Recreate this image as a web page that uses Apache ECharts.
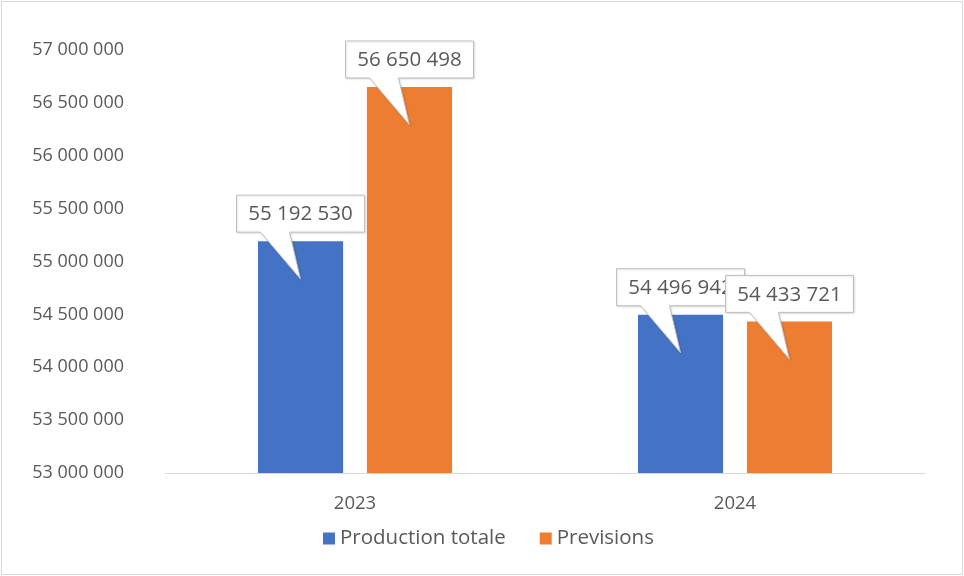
<!DOCTYPE html>
<html>
<head>
<meta charset="utf-8">
<script src="https://cdn.jsdelivr.net/npm/echarts@6/dist/echarts.min.js"></script>
<style>
html,body{margin:0;padding:0;background:#fff;}
#c{width:964px;height:576px;position:absolute;left:0;top:0;}
#frame{position:absolute;left:1px;top:1px;width:960px;height:572px;border:1px solid #d9d9d9;pointer-events:none;}
</style>
</head>
<body>
<div id="c"></div>
<div id="frame"></div>
<script>
var categories = ['2023', '2024'];
var seriesNames = ['Production totale', 'Previsions'];
var productionTotale = [55192530, 54496942];
var previsions = [56650498, 54433721];
var yMin = 53000000, yMax = 57000000, yStep = 500000;

var colors = ['#4472C4', '#ED7D31'];
var BAR_W = 0.224, BAR_GAP = 0.28;

function fmt(v) {
  return String(Math.round(v)).replace(/\B(?=(\d{3})+(?!\d))/g, ' ');
}

var calloutData = [];
[productionTotale, previsions].forEach(function (arr, s) {
  arr.forEach(function (v, i) { calloutData.push([i, v, s]); });
});

var chart = echarts.init(document.getElementById('c'), null, {renderer: 'canvas'});
var font = '20.5px "Open Sans", sans-serif';

chart.setOption({
  animation: false,
  textStyle: {fontFamily: '"Open Sans", sans-serif'},
  grid: {left: 165, right: 39, top: 50, bottom: 103, containLabel: false},
  legend: {
    data: seriesNames,
    bottom: 22,
    left: 318,
    itemWidth: 12, itemHeight: 12, itemGap: 34,
    icon: 'rect',
    textStyle: {color: '#595959', fontSize: 20.5, fontFamily: '"Open Sans", sans-serif'}
  },
  xAxis: {
    type: 'category',
    data: categories,
    axisLine: {lineStyle: {color: '#d9d9d9', width: 1}},
    axisTick: {show: false},
    axisLabel: {color: '#595959', fontSize: 18.5, margin: 21}
  },
  yAxis: {
    type: 'value',
    min: yMin, max: yMax, interval: yStep,
    splitLine: {show: false},
    axisLine: {show: false},
    axisTick: {show: false},
    axisLabel: {color: '#595959', fontSize: 18, margin: 41, formatter: fmt}
  },
  series: [
    {name: seriesNames[0], type: 'bar', data: productionTotale, barWidth: (BAR_W * 100) + '%', barGap: (BAR_GAP * 100) + '%', itemStyle: {color: colors[0]}},
    {name: seriesNames[1], type: 'bar', data: previsions, barWidth: (BAR_W * 100) + '%', barGap: (BAR_GAP * 100) + '%', itemStyle: {color: colors[1]}},
    {
      type: 'custom',
      z: 10,
      clip: false,
      silent: true,
      data: calloutData,
      encode: {x: 0, y: 1},
      renderItem: function (params, api) {
        var ci = api.value(0), v = api.value(1), s = api.value(2);
        var pt = api.coord([ci, v]);
        var band = api.size([1, 0])[0];
        var bw = band * BAR_W;
        var off = bw * (1 + BAR_GAP) / 2;
        var cx = pt[0] + (s === 0 ? -off : off);
        var top = pt[1];
        var w = 128, h = 37;
        var bottom = top - 9;
        var y0 = bottom - h;
        var x0 = cx - w / 2, x1 = cx + w / 2;
        var tipY = top + 38;
        var pts = [[x0, y0], [x1, y0], [x1, bottom], [cx - 11, bottom], [cx, tipY], [cx - 40, bottom], [x0, bottom]];
        return {
          type: 'group',
          z2: params.dataIndex * 2,
          children: [
            {type: 'polygon', z2: params.dataIndex * 2, shape: {points: pts},
             style: {fill: '#ffffff', stroke: '#bfbfbf', lineWidth: 1, shadowBlur: 2, shadowColor: 'rgba(0,0,0,0.12)', shadowOffsetX: 1, shadowOffsetY: 1}},
            {type: 'text', z2: params.dataIndex * 2 + 1,
             style: {text: fmt(v), x: cx, y: y0 + h / 2 + 1, align: 'center', verticalAlign: 'middle', fill: '#595959', font: font}}
          ]
        };
      }
    }
  ]
});
</script>
</body>
</html>
